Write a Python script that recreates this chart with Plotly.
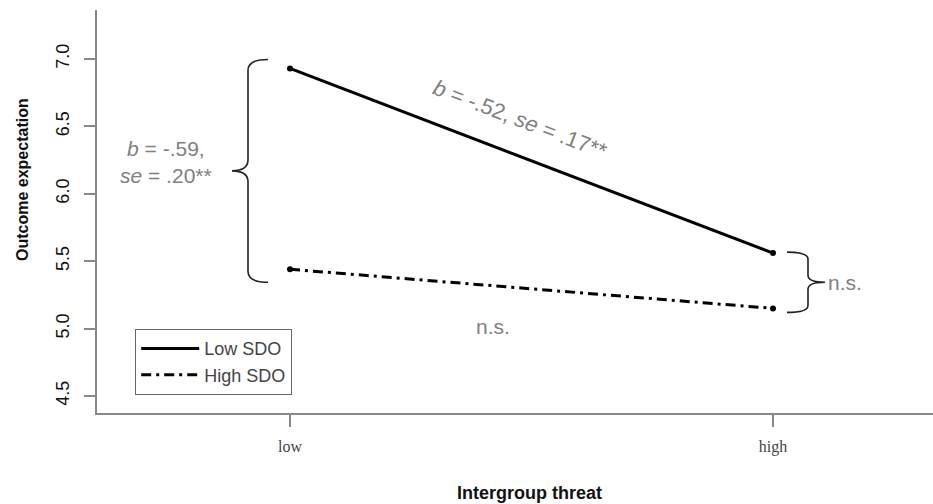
import math
import plotly.graph_objects as go

# ---- data ----
threat_levels = ["low", "high"]
threat_x = [1, 2]
low_sdo = [6.93, 5.56]
high_sdo = [5.44, 5.15]
series_names = ["Low SDO", "High SDO"]
y_ticks = [4.5, 5.0, 5.5, 6.0, 6.5, 7.0]

# ---- layout geometry ----
W, H = 933, 504
M = dict(l=97, r=0, t=10, b=91)
x_range = [0.6004, 2.3313]
y_range = [4.374, 7.3635]
pw = W - M["l"] - M["r"]
ph = H - M["t"] - M["b"]
px_x = pw / (x_range[1] - x_range[0])
px_y = ph / (y_range[1] - y_range[0])


def dx(p):
    return p / px_x


def dy(p):
    return p / px_y


def brace(xv, y_top, y_bot, s, arm, tip, c):
    """Curly brace path in data coords; s=-1 tip points left, +1 right."""
    ym = (y_top + y_bot) / 2
    xa = xv - s * dx(arm)
    xt = xv + s * dx(tip)
    cy = dy(c)
    return (f"M{xa},{y_top} Q{xv},{y_top} {xv},{y_top - cy} "
            f"L{xv},{ym + cy} Q{xv},{ym} {xt},{ym} "
            f"M{xt},{ym} Q{xv},{ym} {xv},{ym - cy} "
            f"L{xv},{y_bot + cy} Q{xv},{y_bot} {xa},{y_bot}")


fig = go.Figure()
dash_styles = [None, "10px,5px,3px,5px"]
for name, vals, dash in zip(series_names, [low_sdo, high_sdo], dash_styles):
    fig.add_trace(go.Scatter(
        x=threat_x, y=vals, name=name, mode="lines",
        line=dict(color="black", width=3, dash=dash),
    ))
for name, vals in zip(series_names, [low_sdo, high_sdo]):
    fig.add_trace(go.Scatter(
        x=threat_x, y=vals, name=name, mode="markers", showlegend=False,
        marker=dict(color="black", size=6),
    ))

gray_txt = "#808080"
txt_font = dict(family="Arial, Liberation Sans, sans-serif", size=21, color=gray_txt)

# left brace (difference at low threat)
lb_top = low_sdo[0] + dy(9)
lb_bot = high_sdo[0] - dy(13)
lb_x = threat_x[0] - dx(42)
# right brace (difference at high threat)
rb_top = low_sdo[1] + dy(1)
rb_bot = high_sdo[1] - dy(4)
rb_x = threat_x[1] + dx(35)

shapes = [
    dict(type="path", xref="x", yref="y",
         path=brace(lb_x, lb_top, lb_bot, -1, 20, 16, 11),
         line=dict(color="#222", width=1.6)),
    dict(type="path", xref="x", yref="y",
         path=brace(rb_x, rb_top, rb_bot, 1, 21, 17, 7),
         line=dict(color="#222", width=1.6)),
]

slope_angle = math.degrees(math.atan(
    (low_sdo[0] - low_sdo[1]) * px_y / ((threat_x[1] - threat_x[0]) * px_x)))

x_mid = (threat_x[0] + threat_x[1]) / 2
annotations = [
    dict(x=threat_x[0], y=(lb_top + lb_bot) / 2, xref="x", yref="y",
         text="<i>b</i> = -.59,<br><i>se</i> = .20**", showarrow=False,
         xshift=-124, yshift=9, font=txt_font, align="center", xanchor="center"),
    dict(x=x_mid, y=(low_sdo[0] + low_sdo[1]) / 2, xref="x", yref="y",
         text="<i>b</i> = -.52, <i>se</i> = .17**", showarrow=False,
         textangle=slope_angle, xshift=-11, yshift=41,
         font=dict(family=txt_font["family"], size=22, color=gray_txt), xanchor="center"),
    dict(x=x_mid, y=(high_sdo[0] + high_sdo[1]) / 2, xref="x", yref="y",
         text="n.s.", showarrow=False, xshift=-38, yshift=-38, font=txt_font, xanchor="center"),
    dict(x=threat_x[1], y=(rb_top + rb_bot) / 2, xref="x", yref="y",
         text="n.s.", showarrow=False, xshift=72, yshift=0, font=txt_font, xanchor="center"),
    dict(x=(529 - M["l"]) / pw, y=(H - M["b"] - 493) / ph, xref="paper", yref="paper",
         text="<b>Intergroup threat</b>", showarrow=False, xanchor="center", yanchor="middle",
         font=dict(family="Arial, Liberation Sans, sans-serif", size=18, color="#111")),
    dict(x=(22 - M["l"]) / pw, y=(H - M["b"] - 180) / ph, xref="paper", yref="paper",
         text="<b>Outcome expectation</b>", showarrow=False, textangle=-90,
         xanchor="center", yanchor="middle",
         font=dict(family="Arial, Liberation Sans, sans-serif", size=16, color="#111")),
]

axis_common = dict(showline=True, linecolor="#888", linewidth=1.5, mirror=False,
                   ticks="outside", tickcolor="#888", tickwidth=1.5,
                   showgrid=False, zeroline=False)

fig.update_layout(
    width=W, height=H, margin=M,
    paper_bgcolor="white", plot_bgcolor="white",
    xaxis=dict(range=x_range, tickvals=threat_x, ticktext=threat_levels,
               ticklen=12, ticklabelstandoff=6,
               tickfont=dict(family="Liberation Serif, Times New Roman, serif", size=16, color="#444"),
               **axis_common),
    yaxis=dict(range=y_range, tickvals=y_ticks, ticktext=[f"{v:.1f}" for v in y_ticks],
               ticklen=11, tickangle=-90, ticklabelstandoff=8,
               tickfont=dict(family="Arial, Liberation Sans, sans-serif", size=18, color="#111"),
               **axis_common),
    showlegend=True,
    legend=dict(x=(135 - M["l"]) / pw, y=(H - M["b"] - 329) / ph,
                xanchor="left", yanchor="top",
                bordercolor="#666", borderwidth=1.2, bgcolor="white",
                font=dict(family="Arial, Liberation Sans, sans-serif", size=18, color="#444"),
                itemwidth=58, tracegroupgap=0),
    shapes=shapes,
    annotations=annotations,
)

fig.write_html("out.html")
